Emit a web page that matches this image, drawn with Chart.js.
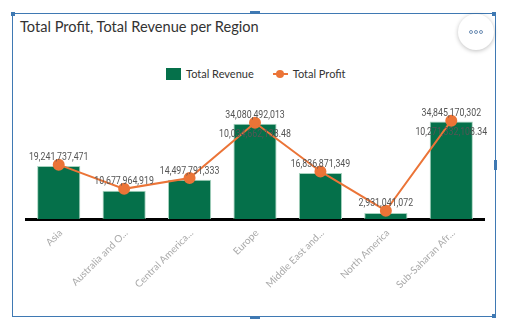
<!DOCTYPE html>
<html>
<head>
<meta charset="utf-8">
<script src="https://cdn.jsdelivr.net/npm/chart.js@4"></script>
<style>
    body { margin: 0; background: #fff; font-family: Lato, sans-serif; }
    #frame { position: absolute; left: 12px; top: 13px; width: 482px; height: 302px; border: 1px solid #3f79b3; }
    .handle { position: absolute; background: #3f79b3; }
    #title { position: absolute; left: 20px; top: 18px; font-size: 14.6px; color: #333; }
    #more { position: absolute; left: 458px; top: 14px; width: 36px; height: 36px; border-radius: 50%; background: #fff; box-shadow: 0 1px 4px rgba(0,0,0,0.25); }
    #more span { position: absolute; top: 16px; width: 2px; height: 2px; border: 1px solid #6e8fb5; border-radius: 50%; }
    #legend { position: absolute; left: 166px; top: 67px; font-size: 11px; color: #333; display: flex; align-items: center; }
    .sw { display: inline-block; width: 15px; height: 12px; background: #05704a; margin-right: 5px; }
    .ln { position: relative; display: inline-block; width: 15px; height: 12px; margin: 0 5px 0 19px; }
    .ln:before { content: ""; position: absolute; left: 0; right: 0; top: 5px; height: 2px; background: #eb7437; }
    .ln:after { content: ""; position: absolute; left: 3px; top: 2px; width: 8px; height: 8px; border-radius: 50%; background: #eb7437; }
    #box { position: absolute; left: 16px; top: 90px; width: 478px; height: 226px; }
</style>
</head>
<body>
<div id="frame"></div>
<div class="handle" style="left:250px;top:11px;width:10px;height:3px"></div>
<div class="handle" style="left:494px;top:160px;width:3px;height:10px"></div>
<div class="handle" style="left:250px;top:316px;width:10px;height:3px"></div>
<div class="handle" style="left:11px;top:12px;width:4px;height:4px"></div>
<div class="handle" style="left:492px;top:12px;width:4px;height:4px"></div>
<div class="handle" style="left:492px;top:314px;width:4px;height:4px"></div>
<div id="title">Total Profit, Total Revenue per Region</div>
<div id="more"><span style="left:11px"></span><span style="left:16px"></span><span style="left:21px"></span></div>
<div id="legend"><span class="sw"></span>Total Revenue<span class="ln"></span>Total Profit</div>
<div id="box"><canvas id="chart"></canvas></div>
<script>
const regions = ['Asia', 'Australia and Oceania', 'Central America and the Caribbean', 'Europe',
    'Middle East and North Africa', 'North America', 'Sub-Saharan Africa'];
const revenue = [5580000000, 2990000000, 4130000000, 10034662138.48, 4840000000, 630000000, 10271332108.34];
const profit = [19241737471, 10677964919, 14497791333, 34080492013, 16836871349, 2931041072, 34845170302];
const revenueLabelShown = [false, false, false, true, false, false, true];

const fmt = (v, d) => v.toLocaleString('en-US', { minimumFractionDigits: d, maximumFractionDigits: d });

function narrowText(ctx, text, x, y) {
    ctx.save();
    ctx.translate(x, y);
    ctx.scale(0.88, 1);
    ctx.fillText(text, 0, 0);
    ctx.restore();
}

// value labels: profit above the points, revenue just inside the bar top
const valueLabels = {
    id: 'valueLabels',
    afterDatasetsDraw(chart) {
        const ctx = chart.ctx;
        ctx.save();
        ctx.font = '10px Roboto';
        ctx.fillStyle = '#555';
        ctx.textAlign = 'center';
        ctx.textBaseline = 'middle';
        chart.getDatasetMeta(0).data.forEach((bar, i) => {
            if (revenueLabelShown[i]) narrowText(ctx, fmt(revenue[i], 2), bar.x, bar.y + 11);
        });
        chart.getDatasetMeta(1).data.forEach((pt, i) => {
            narrowText(ctx, fmt(profit[i], 0), pt.x, pt.y - 7);
        });
        ctx.restore();
    }
};

new Chart(document.getElementById('chart'), {
    type: 'bar',
    data: {
        labels: regions,
        datasets: [{
            type: 'bar',
            label: 'Total Revenue',
            data: revenue,
            yAxisID: 'yRev',
            backgroundColor: '#05704a',
            borderColor: '#a8d3bf',
            borderWidth: { top: 1, left: 1, right: 1, bottom: 0 },
            categoryPercentage: 1,
            barPercentage: 0.66,
            order: 2
        }, {
            type: 'line',
            label: 'Total Profit',
            data: profit,
            yAxisID: 'yProf',
            borderColor: '#eb7437',
            backgroundColor: '#eb7437',
            borderWidth: 2,
            pointRadius: 5,
            pointHoverRadius: 5,
            order: 1
        }]
    },
    options: {
        responsive: true,
        maintainAspectRatio: false,
        animation: false,
        layout: { autoPadding: false, padding: { top: 0, bottom: 0, left: 10, right: 10 } },
        plugins: { legend: { display: false }, tooltip: { enabled: false } },
        scales: {
            x: {
                grid: { display: false, drawTicks: false },
                border: { color: '#000', width: 3 },
                ticks: {
                    color: '#aaa',
                    font: { family: 'Lato', size: 10 },
                    minRotation: 45,
                    maxRotation: 45,
                    padding: 8,
                    labelOffset: 2,
                    callback: function(v) {
                        const s = this.getLabelForValue(v);
                        return s.length > 15 ? s.slice(0, 15) + '...' : s;
                    }
                },
                afterFit: s => { s.height = 97; s.paddingLeft = 0; s.paddingRight = 0; }
            },
            yRev: { display: false, min: 0, max: 13600000000 },
            yProf: { display: false, min: 0, max: 45700000000 }
        }
    },
    plugins: [valueLabels]
});
</script>
</body>
</html>
